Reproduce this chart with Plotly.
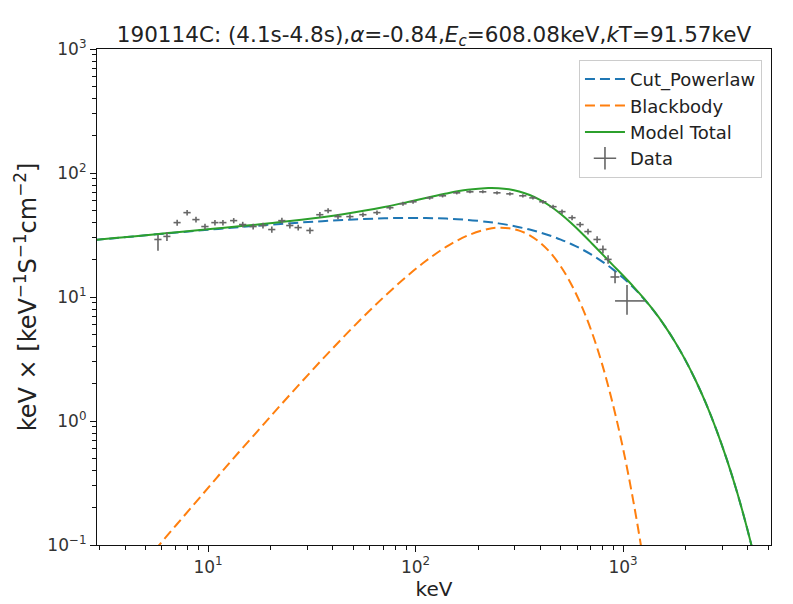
import plotly.graph_objects as go

# ---------------- data ----------------
energy = [2.82, 3.55, 4.47, 5.62, 7.08, 8.91, 11.2, 14.1, 17.8, 22.4, 28.2, 35.5,
          44.7, 56.2, 70.8, 89.1, 112, 141, 178, 224, 251, 282, 316, 355, 398,
          447, 501, 562, 631, 708, 794, 891, 1000, 1122, 1259, 1413, 1585, 1778,
          1995, 2239, 2512, 2818, 3162, 3548, 3981, 4467, 5012, 5623]

cut_powerlaw = [28.78, 29.83, 30.90, 32.00, 33.12, 34.26, 35.41, 36.57, 37.71, 38.83,
                39.91, 40.91, 41.81, 42.56, 43.11, 43.40, 43.35, 42.88, 41.89, 40.29,
                39.24, 38.01, 36.58, 34.97, 33.17, 31.20, 29.05, 26.76, 24.35, 21.85,
                19.31, 16.77, 14.29, 11.91, 9.68, 7.66, 5.88, 4.36, 3.11, 2.12, 1.38,
                0.848, 0.490, 0.265, 0.132, 0.0605, 0.0252, 0.0094]

bb_energy = [4.47, 5.62, 7.08, 8.91, 11.2, 14.1, 17.8, 22.4, 28.2, 35.5, 44.7, 56.2,
             70.8, 89.1, 112, 141, 178, 224, 251, 282, 316, 355, 398, 447, 501, 562,
             631, 708, 794, 891, 1000, 1122, 1259, 1413]
blackbody = [0.0592, 0.0933, 0.147, 0.230, 0.360, 0.562, 0.871, 1.346, 2.062, 3.134,
             4.708, 6.964, 10.10, 14.28, 19.50, 25.47, 31.27, 35.39, 36.21, 35.90,
             34.31, 31.45, 27.47, 22.70, 17.62, 12.74, 8.49, 5.18, 2.85, 1.39, 0.600,
             0.224, 0.0709, 0.0186]

model_total = [28.80, 29.87, 30.96, 32.09, 33.27, 34.49, 35.77, 37.13, 38.58, 40.18,
               41.97, 44.04, 46.52, 49.52, 53.21, 57.68, 62.85, 68.35, 73.16, 75.68,
               75.45, 73.91, 70.89, 66.42, 60.64, 53.90, 46.67, 39.50, 32.84, 27.03,
               22.16, 18.16, 14.89, 12.13, 9.75, 7.68, 5.88, 4.36, 3.11, 2.12, 1.38,
               0.848, 0.490, 0.265, 0.132, 0.0605, 0.0252, 0.0094]

data_energy = [5.74, 6.34, 7.10, 7.93, 8.75, 9.67, 10.8, 11.8, 13.3, 14.7, 16.5, 18.4,
               20.3, 22.7, 24.8, 27.2, 31.0, 34.6, 37.9, 42.3, 48.3, 55.8, 65.2, 75.3,
               87.0, 97.3, 117, 135, 158, 183, 211, 247, 285, 329, 368, 411, 460, 508,
               568, 621, 678, 750, 800, 847, 915, 1045]
data_flux = [29.1, 30.8, 39.8, 47.9, 42.1, 37.0, 39.8, 39.8, 41.3, 38.4, 37.0, 37.7,
             35.0, 41.3, 37.7, 36.3, 34.4, 46.1, 49.7, 44.5, 44.5, 46.1, 47.9, 52.5,
             56.5, 58.6, 63.0, 65.5, 69.2, 70.5, 70.5, 69.2, 67.9, 65.5, 63.0, 58.6,
             53.5, 48.8, 43.6, 38.4, 33.7, 29.1, 24.2, 20.1, 14.5, 9.3]
energy_err_lo = [0.23, 0.25, 0.28, 0.32, 0.35, 0.39, 0.43, 0.47, 0.53, 0.59, 0.66, 0.74,
                 0.81, 0.91, 0.99, 1.09, 1.24, 1.38, 1.52, 1.69, 1.93, 2.23, 2.61, 3.01,
                 3.48, 3.89, 4.7, 5.4, 6.3, 7.3, 8.4, 9.9, 11.4, 13.2, 14.7, 16.4, 18.4,
                 20.3, 22.7, 24.8, 27.1, 30, 32, 34, 45, 130]
energy_err_hi = [0.23, 0.25, 0.28, 0.32, 0.35, 0.39, 0.43, 0.47, 0.53, 0.59, 0.66, 0.74,
                 0.81, 0.91, 0.99, 1.09, 1.24, 1.38, 1.52, 1.69, 1.93, 2.23, 2.61, 3.01,
                 3.48, 3.89, 4.7, 5.4, 6.3, 7.3, 8.4, 9.9, 11.4, 13.2, 14.7, 16.4, 18.4,
                 20.3, 22.7, 24.8, 27.1, 30, 32, 34, 45, 230]
flux_err_hi = [2.5, 2.5, 2.2, 2.5, 2.2, 2.0, 2.0, 2.0, 2.0, 2.0, 2.0, 2.0, 2.0, 2.2, 2.0,
               2.0, 2.0, 2.3, 2.3, 2.2, 2.0, 2.0, 2.0, 2.0, 2.0, 2.0, 2.0, 2.0, 2.0, 2.0,
               2.0, 2.0, 2.0, 2.0, 2.0, 2.0, 2.0, 2.0, 2.0, 1.8, 1.8, 1.8, 1.8, 1.6, 1.6,
               3.2]
flux_err_lo = [5.5, 2.5, 2.2, 2.5, 2.2, 2.0, 2.0, 2.0, 2.0, 2.0, 2.0, 2.0, 2.0, 2.2, 2.0,
               2.0, 2.0, 2.3, 2.3, 2.2, 2.0, 2.0, 2.0, 2.0, 2.0, 2.0, 2.0, 2.0, 2.0, 2.0,
               2.0, 2.0, 2.0, 2.0, 2.0, 2.0, 2.0, 2.0, 2.0, 1.8, 1.8, 1.8, 1.8, 1.6, 1.6,
               2.1]

x_tickvals = [10, 100, 1000]
x_ticktext = ["10<sup>1</sup>", "10<sup>2</sup>", "10<sup>3</sup>"]
y_tickvals = [0.1, 1, 10, 100, 1000]
y_ticktext = ["10<sup>\u22121</sup>", "10<sup>0</sup>", "10<sup>1</sup>",
              "10<sup>2</sup>", "10<sup>3</sup>"]

title_text = ("190114C: (4.1s-4.8s),<i>\u03b1</i>=-0.84,<i>E</i><sub><i>c</i></sub>"
              "=608.08keV,<i>k</i>T=91.57keV")
x_label = "keV"
y_label = "keV \u00d7 [keV<sup>\u22121</sup>S<sup>\u22121</sup>cm<sup>\u22122</sup>]"

# ---------------- figure ----------------
FONT = "DejaVu Sans"
GRAY = "#666666"

fig = go.Figure()
fig.add_trace(go.Scatter(x=energy, y=cut_powerlaw, mode="lines", name="Cut_Powerlaw",
                         legendgroup="a",
                         line=dict(color="#1f77b4", width=2, dash="10px,5px", shape="spline")))
fig.add_trace(go.Scatter(x=bb_energy, y=blackbody, mode="lines", name="Blackbody",
                         legendgroup="b",
                         line=dict(color="#ff7f0e", width=2, dash="10px,5px", shape="spline")))
fig.add_trace(go.Scatter(x=energy, y=model_total, mode="lines", name="Model Total",
                         legendgroup="c",
                         line=dict(color="#2ca02c", width=2, shape="spline")))
fig.add_trace(go.Scatter(x=data_energy, y=data_flux, mode="markers", showlegend=False,
                         legendgroup="d",
                         marker=dict(size=1, color="rgba(0,0,0,0)"),
                         error_x=dict(type="data", symmetric=False, array=energy_err_hi,
                                      arrayminus=energy_err_lo, width=0, thickness=1.6,
                                      color=GRAY),
                         error_y=dict(type="data", symmetric=False, array=flux_err_hi,
                                      arrayminus=flux_err_lo, width=0, thickness=1.6,
                                      color=GRAY)))
fig.add_trace(go.Scatter(x=[None], y=[None], mode="markers", name="Data", legendgroup="d",
                         marker=dict(symbol="cross-thin", size=16, color=GRAY,
                                     line=dict(width=1.6, color=GRAY))))

minor_x = [m * 10 ** d for d in range(0, 4) for m in range(2, 10) if 2.9 < m * 10 ** d < 5200]
minor_y = [m * 10 ** d for d in range(-1, 3) for m in range(2, 10)]

axis_common = dict(type="log", showline=True, linecolor="#111", linewidth=1.2, mirror=True,
                   ticks="outside", ticklen=6, tickwidth=1.1, tickcolor="#111",
                   showgrid=False, zeroline=False,
                   tickfont=dict(family=FONT, size=17, color="#333"))

fig.update_xaxes(range=[0.465, 3.713], tickmode="array", tickvals=x_tickvals,
                 ticktext=x_ticktext,
                 minor=dict(tickmode="array", tickvals=minor_x, ticks="outside",
                            ticklen=3.5, tickwidth=1, tickcolor="#111", showgrid=False),
                 title=dict(text=x_label, font=dict(family=FONT, size=20, color="#222"),
                            standoff=1),
                 **axis_common)
fig.update_yaxes(range=[-1, 3], tickmode="array", tickvals=y_tickvals, ticktext=y_ticktext,
                 minor=dict(tickmode="array", tickvals=minor_y, ticks="outside",
                            ticklen=3.5, tickwidth=1, tickcolor="#111", showgrid=False),
                 title=dict(text=y_label, font=dict(family=FONT, size=24, color="#222"),
                            standoff=3),
                 **axis_common)

fig.update_layout(
    width=793, height=604,
    margin=dict(l=97, r=22, t=49, b=56),
    paper_bgcolor="white", plot_bgcolor="white",
    title=dict(text=title_text, x=0.5, xref="paper", y=1 - 34 / 604, yref="container",
               xanchor="center", yanchor="middle",
               font=dict(family=FONT, size=21.5, color="#222")),
    legend=dict(x=0.9866, y=0.978, xanchor="right", yanchor="top",
                bgcolor="rgba(255,255,255,0.85)", bordercolor="#cccccc", borderwidth=1,
                font=dict(family=FONT, size=18, color="#222"), tracegroupgap=0,
                itemwidth=40),
    showlegend=True,
)

fig.write_html("out.html")
